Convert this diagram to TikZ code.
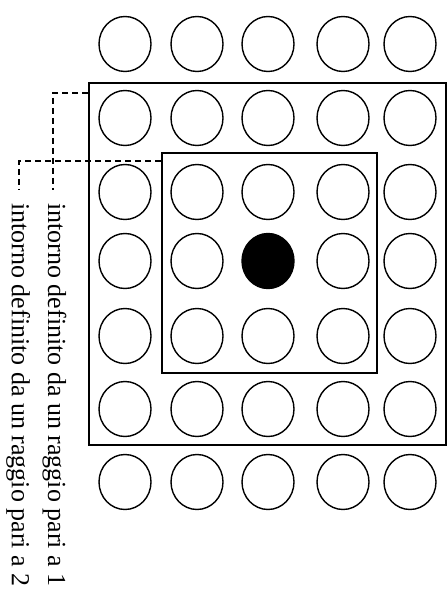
\documentclass[tikz,border=0pt]{standalone}
\usepackage{fontspec}
\setmainfont{Liberation Serif}
\usetikzlibrary{shapes.geometric}
\begin{document}
\begin{tikzpicture}[x=1pt,y=-1pt,
  cell/.style={draw, ellipse, line width=1.4pt, minimum width=52pt, minimum height=55pt, inner sep=0pt},
  center/.style={cell, fill=black},
  zone/.style={draw, line width=1.6pt, inner sep=0pt, anchor=north west},
  guide/.style={line width=1.5pt, dash pattern=on 6pt off 4pt},
  lab/.style={rotate=-90, anchor=base west, inner sep=0pt, font=\fontsize{26}{26}\selectfont}]
\fill[white] (0,0) rectangle (447,612);
\useasboundingbox (0,0) rectangle (447,612);
% grid of cells
\foreach \r/\y in {1/44,2/118,3/192,4/261,5/336,6/409,7/482}{
  \foreach \c/\x in {1/125,2/197,3/268,4/343,5/410}{
    \ifnum\r=4 \ifnum\c=3
      \node[center] (c\r\c) at (\x,\y) {};
    \else
      \node[cell] (c\r\c) at (\x,\y) {};
    \fi\else
      \node[cell] (c\r\c) at (\x,\y) {};
    \fi
  }
}
% neighbourhoods
\node[zone, minimum width=357pt, minimum height=362pt] (outer) at (88,82) {};
\node[zone, minimum width=215pt, minimum height=220pt] (inner) at (161,152) {};
% labels
\node[lab] (l1) at (48,203) {intorno definito da un raggio pari a 1};
\node[lab] (l2) at (12,203) {intorno definito da un raggio pari a 2};
% guide lines
\coordinate (g1) at (53,93);
\coordinate (g1e) at (53,190);
\coordinate (g2) at (19,161);
\coordinate (g2e) at (19,190);
\draw[guide] (outer.west |- g1) -- (g1) -- (g1e);
\draw[guide] (inner.west |- g2) -- (g2) -- (g2e);
\end{tikzpicture}
\end{document}
